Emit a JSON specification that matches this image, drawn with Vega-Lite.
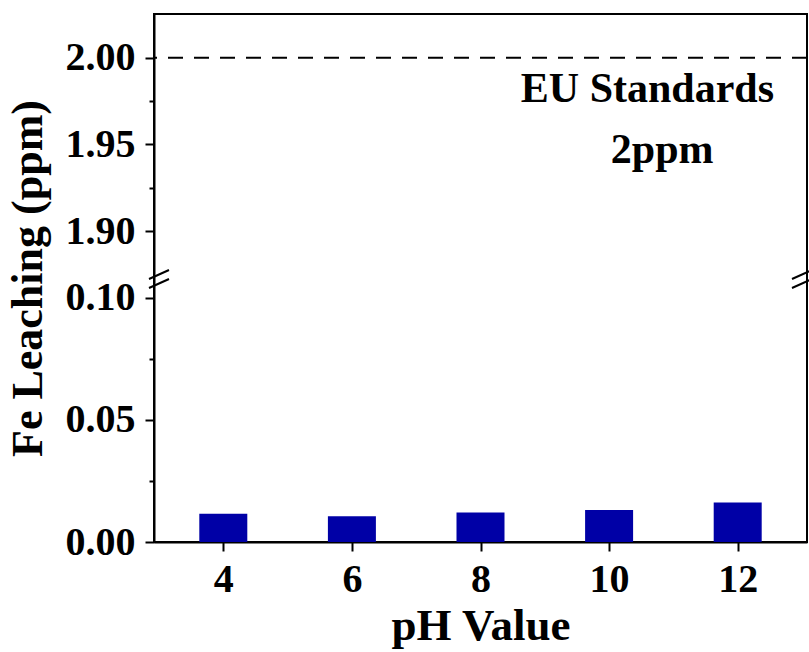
{
  "$schema": "https://vega.github.io/schema/vega-lite/v6.json",
  "width": 653,
  "height": 528,
  "autosize": {"type": "none"},
  "padding": {"left": 154, "top": 14, "right": 2, "bottom": 110},
  "background": "white",
  "config": {
    "view": {"stroke": "black", "strokeWidth": 2},
    "font": "Liberation Serif",
    "axis": {
      "labelFont": "Liberation Serif",
      "labelFontWeight": "bold",
      "labelFontSize": 40,
      "labelColor": "black",
      "titleFont": "Liberation Serif",
      "titleFontWeight": "bold",
      "titleFontSize": 44,
      "titleColor": "black",
      "domainColor": "black",
      "domainWidth": 2,
      "tickColor": "black",
      "tickWidth": 2,
      "grid": false
    }
  },
  "data": {
    "values": [
      {"ph": 4, "fe": 0.0116},
      {"ph": 6, "fe": 0.0105},
      {"ph": 8, "fe": 0.0121},
      {"ph": 10, "fe": 0.0131},
      {"ph": 12, "fe": 0.0162}
    ]
  },
  "layer": [
    {
      "mark": {"type": "bar", "color": "#0000a6", "size": 48},
      "encoding": {
        "x": {
          "field": "ph",
          "type": "quantitative",
          "scale": {"domain": [3, 13], "nice": false, "zero": false},
          "axis": {
            "values": [4, 6, 8, 10, 12],
            "format": "d",
            "title": "pH Value",
            "tickSize": 9,
            "labelPadding": 8,
            "titlePadding": 4,
            "titleFontSize": 45,
            "labelFlush": false
          }
        },
        "y": {
          "field": "fe",
          "type": "quantitative",
          "scale": {
            "type": "linear",
            "domain": [0, 0.1057, 1.8752, 2.0252],
            "range": [528, 270, 260, 0],
            "nice": false,
            "zero": false
          },
          "axis": {
            "orient": "left",
            "values": [0, 0.05, 0.1, 1.9, 1.95, 2.0],
            "format": ".2f",
            "title": "Fe Leaching (ppm)",
            "tickSize": 9,
            "labelPadding": 10,
            "titlePadding": 15,
            "labelFlush": false
          }
        }
      }
    },
    {
      "data": {"values": [{}]},
      "mark": {"type": "rule", "strokeDash": [15, 11], "strokeWidth": 2, "color": "black"},
      "encoding": {
        "y": {
          "datum": 2.0,
          "axis": {
            "orient": "left",
            "values": [0.025, 0.075, 1.925, 1.975],
            "labels": false,
            "title": null,
            "tickSize": 5,
            "domain": false
          }
        }
      }
    },
    {
      "data": {"values": [{}]},
      "mark": {"type": "point", "shape": "M-1,0L1,-0.9M-1,0.9L1,0", "size": 400, "stroke": "black", "strokeWidth": 2, "filled": false, "opacity": 1},
      "encoding": {
        "x": {"datum": 3},
        "y": {"datum": 0.99, "axis": null}
      }
    },
    {
      "data": {"values": [{}]},
      "mark": {"type": "point", "shape": "M-1,0L1,-0.9M-1,0.9L1,0", "size": 400, "stroke": "black", "strokeWidth": 2, "filled": false, "opacity": 1},
      "encoding": {
        "x": {"datum": 13},
        "y": {"datum": 0.99, "axis": null}
      }
    },
    {
      "data": {"values": [{}]},
      "mark": {"type": "text", "text": "EU Standards", "font": "Liberation Serif", "fontWeight": "bold", "fontSize": 42, "align": "center", "baseline": "alphabetic", "color": "black"},
      "encoding": {
        "x": {"datum": 10.596},
        "y": {"datum": 1.9744, "axis": null}
      }
    },
    {
      "data": {"values": [{}]},
      "mark": {"type": "text", "text": "2ppm", "font": "Liberation Serif", "fontWeight": "bold", "fontSize": 42, "align": "center", "baseline": "alphabetic", "color": "black"},
      "encoding": {
        "x": {"datum": 10.825},
        "y": {"datum": 1.9392, "axis": null}
      }
    }
  ],
  "resolve": {"axis": {"y": "independent"}}
}
